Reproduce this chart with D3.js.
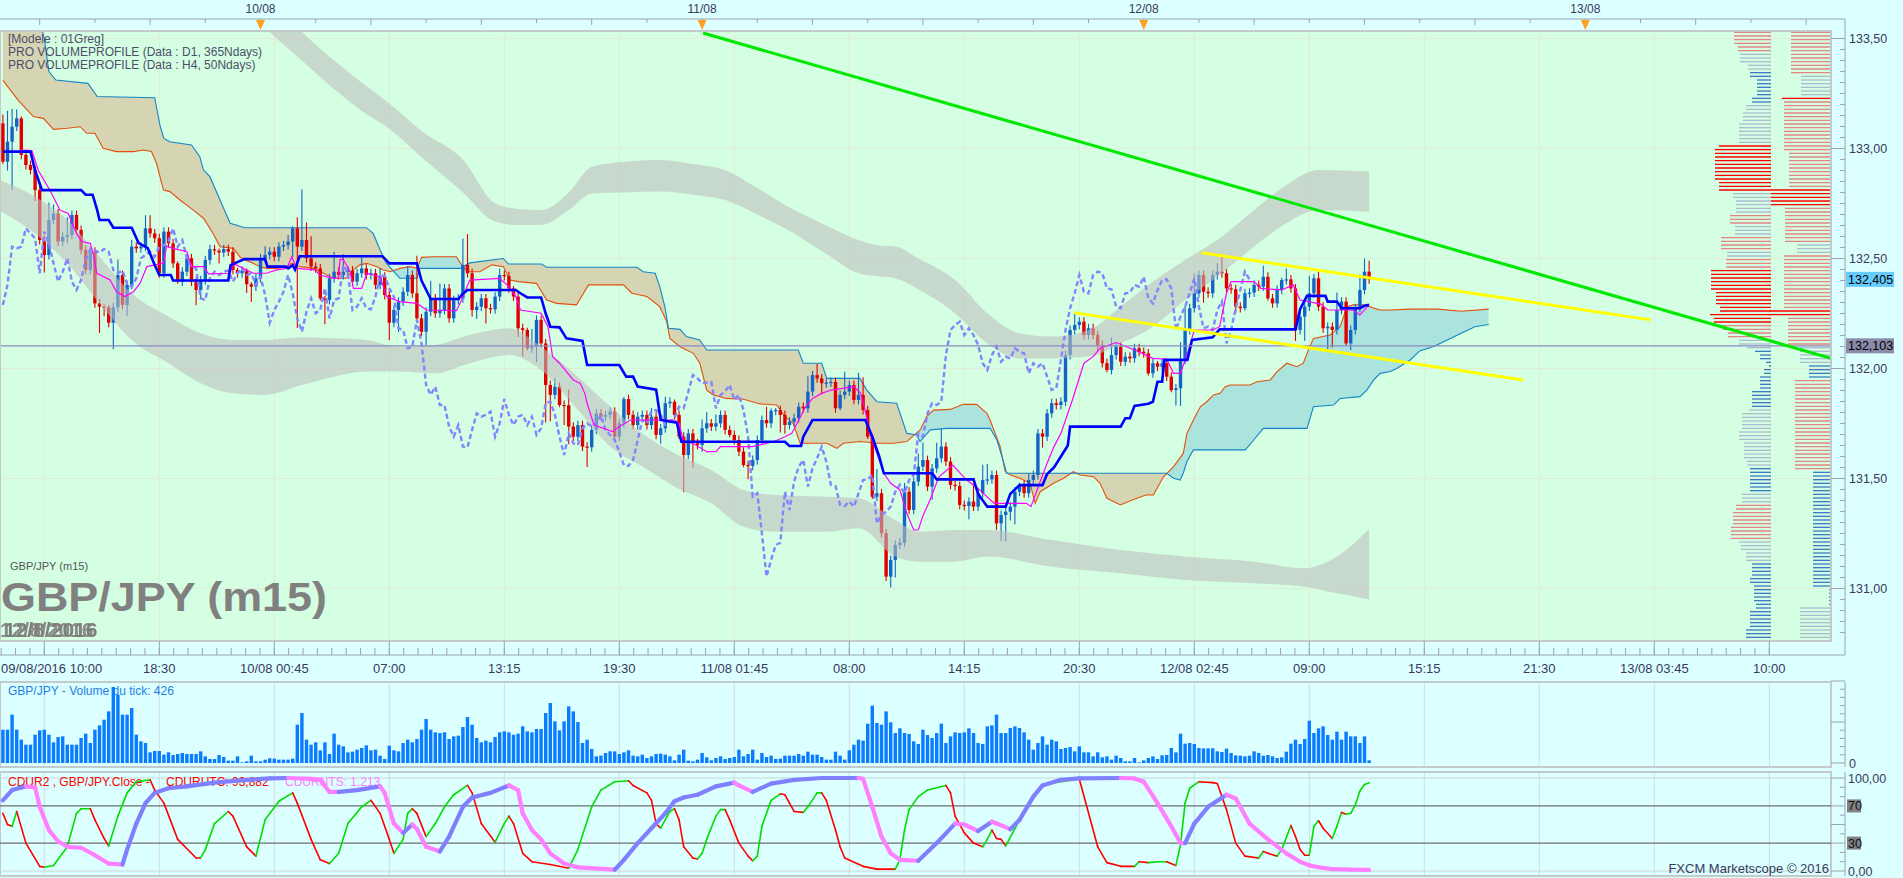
<!DOCTYPE html>
<html>
<head>
<meta charset="utf-8">
<title>GBP/JPY (m15)</title>
<script src="https://cdn.jsdelivr.net/npm/d3@7/dist/d3.min.js"></script>
<style>
html,body{margin:0;padding:0;background:#dcffff;overflow:hidden}
svg{display:block}
text{font-family:"Liberation Sans",Arial,sans-serif}
</style>
</head>
<body>
<svg id="chart" width="1903" height="878"></svg>
<script>
// ================= DATA =================
const startLabel = "09/08/2016 10:00";
const firstOpen = 133.114;
const closes = [
132.940,133.031,133.099,133.137,132.971,132.925,132.902,132.811,132.584,132.516,
132.675,132.705,132.577,132.599,132.607,132.698,132.630,132.539,132.448,132.531,
132.296,132.281,132.278,132.208,132.278,132.425,132.289,132.380,132.554,132.546,
132.554,132.637,132.614,132.592,132.433,132.622,132.569,132.478,132.395,132.440,
132.501,132.395,132.357,132.402,132.493,132.542,132.536,132.527,132.543,132.531,
132.448,132.433,132.445,132.383,132.372,132.410,132.501,132.516,132.531,132.508,
132.554,132.561,132.577,132.637,132.554,132.584,132.501,132.463,132.455,132.319,
132.311,132.410,132.440,132.425,132.440,132.445,132.395,132.433,132.455,132.425,
132.433,132.380,132.417,132.334,132.208,132.266,132.304,132.349,132.425,132.342,
132.228,132.167,132.258,132.319,132.251,132.266,132.364,132.228,132.311,132.319,
132.471,132.433,132.266,132.281,132.319,132.274,132.269,132.327,132.425,132.420,
132.364,132.327,132.183,132.175,132.092,132.099,132.221,132.114,131.925,131.880,
131.917,131.834,131.833,131.736,131.690,131.743,131.645,131.642,131.721,131.796,
131.781,131.789,131.804,131.690,131.751,131.861,131.789,131.743,131.781,131.789,
131.743,131.781,131.698,131.728,131.842,131.849,131.789,131.690,131.607,131.705,
131.660,131.652,131.728,131.751,131.736,131.751,131.789,131.721,131.698,131.675,
131.622,131.561,131.557,131.584,131.675,131.766,131.751,131.808,131.811,131.789,
131.743,131.758,131.774,131.826,131.819,131.895,131.970,131.955,131.933,131.936,
131.939,131.819,131.880,131.895,131.925,131.857,131.880,131.811,131.690,131.417,
131.433,131.251,131.054,131.130,131.198,131.208,131.440,131.357,131.486,131.554,
131.584,131.463,131.546,131.592,131.645,131.577,131.471,131.466,131.380,131.375,
131.395,131.372,131.433,131.493,131.496,131.516,131.296,131.334,131.349,131.372,
131.440,131.471,131.433,131.493,131.516,131.705,131.690,131.796,131.842,131.834,
131.849,132.061,132.175,132.198,132.213,132.152,132.183,132.152,132.107,132.024,
131.993,132.061,132.099,132.031,132.054,132.046,132.092,132.076,132.069,131.978,
132.024,132.008,132.024,131.963,131.902,131.910,132.039,132.175,132.274,132.342,
132.425,132.349,132.342,132.425,132.440,132.433,132.364,132.360,132.281,132.274,
132.342,132.345,132.380,132.372,132.417,132.319,132.296,132.357,132.402,132.405,
132.364,132.175,132.236,132.281,132.342,132.410,132.281,132.183,132.190,132.175,
132.266,132.304,132.114,132.175,132.274,132.357,132.440,132.405];
const upperWickPips = [
4,14,8,4,1,2,2,2,2,2, 8,4,2,2,8,2,2,2,2,2, 2,2,1,1,2,7,2,2,3,2, 2,6,6,2,2,2,2,2,1,2,
2,2,2,2,2,2,2,1,2,2, 2,1,2,1,1,2,2,4,2,2, 2,2,3,1,5,23,8,10,2,2, 1,2,9,2,8,2,2,2,5,2,
2,2,4,2,2,2,2,2,4,2, 17,2,2,8,2,12,2,2,2,2, 12,14,2,2,2,2,2,2,3,2, 2,1,2,2,1,8,2,2,2,2,
4,2,2,7,2,2,2,2,2,2, 2,2,2,2,2,1,2,2,2,2, 2,4,2,2,3,2,1,2,2,2, 2,2,4,5,2,4,2,2,2,2,
2,2,2,2,2,2,6,1,1,2, 2,2,2,2,2,7,2,5,2,2, 2,2,2,9,2,2,10,8,2,1, 11,2,2,2,2,2,4,2,2,6,
8,2,2,7,8,2,2,2,2,2, 2,8,2,7,7,2,2,2,2,2, 2,1,2,3,2,2,2,2,2,2, 2,2,2,5,2,2,2,2,2,2,
2,8,2,2,2,2,2,2,2,2, 2,1,2,2,2,2,8,11,2,9, 2,2,2,2,4,7,2,2,2,2, 2,2,2,2,5,2,2,2,1,5,
2,2,2,2,8,2,3,2,2,2, 8,2,2,2,2,7,6,5];
const lowerWickPips = [
1,4,22,2,2,2,2,5,2,8, 2,2,2,2,3,2,2,2,2,2, 2,12,4,2,12,2,2,5,2,2, 2,2,2,2,2,2,2,2,1,2,
2,2,7,4,2,2,2,5,2,2, 2,2,2,4,7,2,2,2,2,2, 2,2,2,7,37,2,2,2,2,1, 11,2,2,2,2,2,2,2,2,2,
2,2,2,2,8,2,10,2,2,2, 2,2,6,2,2,2,2,2,2,2, 2,2,3,4,2,7,2,2,2,2, 2,2,4,12,1,2,7,2,17,12,
2,1,9,8,2,2,2,9,2,2, 2,2,2,2,2,2,2,2,2,2, 2,2,2,4,2,2,2,1,17,2, 11,2,3,2,2,2,2,2,1,2,
2,1,6,2,2,2,2,2,2,8, 4,2,2,2,2,2,2,2,5,2, 2,2,1,2,2,2,2,2,1,1, 2,2,2,5,8,2,2,2,2,2,
2,2,6,2,2,2,2,2,2,2, 6,2,2,2,2,2,3,8,12,4, 8,2,2,2,2,2,5,2,2,2, 2,2,2,2,2,2,2,2,3,2,
1,2,2,2,2,2,2,2,2,1, 2,2,2,2,1,7,8,2,2,2, 2,5,2,2,2,2,2,2,3,2, 1,2,2,2,2,1,2,2,2,2,
2,5,2,11,2,2,2,2,10,8, 2,2,1,3,2,2,2,2];
const tickVolumes = [
1300,1300,1890,1300,910,715,715,1105,1274,1300, 1105,806,1014,1040,715,715,715,975,1144,780,
1300,1469,1690,2015,2964,2665,1885,1885,2145,1105, 845,780,416,468,468,325,416,312,351,390,
351,351,351,455,260,156,156,312,234,91, 91,260,26,65,286,65,65,130,182,169,
130,130,130,169,1495,1950,910,715,806,494, 806,351,1144,715,650,416,442,520,585,689,
494,520,286,156,676,494,455,780,910,806, 936,1300,1716,1300,1196,1170,1196,936,1040,1066,
1404,1794,1495,975,806,871,806,1014,1196,1235, 1196,1105,1144,1430,1235,1196,1326,1326,1950,2340,
1625,1274,1625,2210,2015,1599,780,910,546,260, 286,390,455,455,351,416,494,286,260,325,
195,260,351,364,325,260,104,325,520,91, 65,130,390,221,104,195,260,156,195,234,
520,260,351,520,130,390,234,286,156,169, 286,286,286,351,286,442,325,325,234,130,
130,442,286,130,494,715,910,871,1534,2236, 1560,1495,2015,1586,1170,1352,1170,1131,845,741,
1300,1092,975,1170,1534,780,1040,1196,1170,1196, 1352,1170,780,741,1430,1469,1885,1170,1170,1365,
1430,1365,1196,910,520,780,1040,715,910,845, 546,585,624,455,650,416,416,260,416,221,
260,130,286,195,65,65,195,26,104,195, 260,156,299,312,585,416,1144,754,780,741,
585,572,572,572,455,429,559,390,299,286, 260,286,455,390,286,312,260,195,221,442,
754,910,741,936,1651,1170,1352,1430,1092,910, 1222,910,1222,1040,1040,780,1040,104];
// Ichimoku lines: [candle index, price]
const tenkan = [[3.7,132.993],[6.3,132.99],[7.7,132.90],[10.2,132.811],[12.4,132.720],[14.2,132.705],[16,132.614],[17.1,132.577],[19,132.569],[19.7,132.516],[20.4,132.433],[23.3,132.402],[24.7,132.349],[26.5,132.327],[28.4,132.349],[29.8,132.387],[31.3,132.463],[33.1,132.471],[34.9,132.478],[35.6,132.557],[37,132.546],[40,132.531],[41,132.463],[43.6,132.463],[44.7,132.430],[49.4,132.433],[50.1,132.478],[53,132.448],[54.4,132.433],[57.3,132.433],[59.5,132.448],[61.7,132.455],[62.8,132.508],[63.9,132.455],[67.8,132.448],[68.9,132.425],[71.8,132.410],[72.9,132.410],[73.3,132.496],[74,132.496],[75.5,132.440],[76.2,132.364],[78,132.364],[79.1,132.433],[80.5,132.425],[82,132.417],[83.4,132.327],[86.3,132.304],[90,132.296],[92.1,132.266],[98.6,132.263],[99.7,132.311],[101.5,132.402],[108,132.41],[110,132.372],[111.5,132.327],[112.5,132.266],[117,132.251],[118.5,132.19],[119.5,132.054],[121,132.024],[124,131.948],[125.5,131.933],[126.5,131.887],[127,131.842],[128.5,131.743],[132.5,131.713],[134,131.736],[136.5,131.766],[146,131.766],[147,131.751],[148,131.667],[150,131.660],[153,131.622],[155,131.622],[156,131.645],[163,131.645],[167.5,131.667],[170,131.690],[171.5,131.705],[173,131.766],[174.5,131.826],[176,131.864],[178,131.887],[180,131.902],[185,131.917],[186.5,131.887],[187.5,131.804],[188.5,131.705],[190.5,131.584],[191.5,131.524],[193,131.478],[195,131.448],[196.5,131.342],[198,131.266],[199,131.266],[200,131.33],[201.5,131.40],[203.5,131.508],[206.5,131.561],[209.5,131.493],[212,131.455],[215.5,131.387],[222.5,131.387],[223.5,131.372],[225.5,131.486],[227,131.569],[228.5,131.645],[230,131.705],[232.5,131.857],[235,132.024],[237,132.054],[238.5,132.092],[242,132.118],[246,132.084],[250,132.046],[253,132.042],[254.5,131.978],[256,131.978],[257.5,132.069],[259,132.175],[263,132.175],[264.5,132.190],[266,132.342],[267,132.395],[272,132.395],[273.5,132.364],[278,132.357],[280.5,132.380],[282,132.311],[286.5,132.293],[288,132.266],[293.5,132.266],[295,132.243],[297,132.290]];
const kijun = [[0,132.986],[6,132.986],[7,132.90],[8.5,132.811],[17,132.811],[18,132.79],[19.5,132.79],[20.5,132.72],[21,132.675],[23,132.675],[24,132.64],[28,132.64],[29.5,132.57],[31.5,132.547],[33,132.47],[34,132.425],[36.5,132.425],[37,132.40],[49,132.40],[49.5,132.47],[52.5,132.497],[57,132.497],[57.5,132.463],[61.5,132.463],[62,132.455],[63,132.47],[63.5,132.45],[64.5,132.51],[82.5,132.51],[84,132.478],[90,132.478],[91,132.40],[93,132.316],[99,132.316],[100,132.34],[101,132.357],[111.5,132.357],[112.5,132.342],[114,132.323],[117,132.323],[118,132.25],[119,132.19],[121,132.187],[122.5,132.137],[126,132.125],[127,132.016],[134,132.016],[135.5,131.963],[137,131.963],[138,131.918],[142,131.904],[143,131.766],[146.5,131.754],[147.5,131.667],[170,131.667],[171,131.648],[173.5,131.648],[174,131.69],[175,131.728],[176,131.766],[187.5,131.766],[189,131.69],[190.5,131.60],[191.5,131.524],[202,131.524],[203,131.496],[211,131.496],[212,131.43],[214,131.372],[218,131.372],[219,131.43],[221,131.47],[226,131.47],[227,131.52],[228.5,131.55],[230,131.60],[231.5,131.65],[232,131.736],[243,131.736],[244,131.774],[245,131.774],[246,131.83],[249,131.84],[250,131.849],[251,131.94],[252,131.94],[252.5,132.039],[257.5,132.039],[258.5,132.13],[263,132.142],[264.5,132.178],[281,132.178],[282,132.27],[283.5,132.330],[287.5,132.330],[288,132.304],[290,132.304],[291,132.274],[295,132.274],[296,132.285],[297,132.29]];
const senkouA = [[0,133.31],[3.3,133.22],[6.6,133.145],[8.8,133.137],[11,133.087],[14,133.092],[16.8,133.099],[18.2,133.069],[20,133.069],[21.8,133.001],[24.7,132.986],[28.4,132.986],[30.5,132.993],[32.3,132.986],[33.4,132.933],[34.9,132.811],[36.3,132.804],[38.5,132.766],[41.4,132.720],[43.6,132.683],[45.7,132.614],[47.2,132.554],[50.1,132.546],[51.5,132.508],[52.6,132.493],[54.4,132.478],[55.9,132.463],[57.3,132.455],[59.5,132.455],[61.7,132.463],[62.8,132.478],[64.6,132.463],[67.5,132.455],[69.7,132.433],[71.8,132.410],[74.7,132.410],[76.2,132.448],[77.6,132.471],[79.1,132.478],[81.3,132.463],[82.7,132.448],[84.2,132.440],[86.3,132.455],[88.5,132.463],[90,132.455],[91,132.505],[93.6,132.508],[98.6,132.508],[99.7,132.471],[101,132.44],[103.7,132.440],[106.3,132.471],[108.8,132.463],[110.2,132.402],[112.1,132.395],[116,132.387],[118.2,132.311],[120.4,132.296],[124.7,132.289],[127.3,132.380],[134.9,132.380],[136.7,132.342],[140,132.327],[142.8,132.281],[144.3,132.213],[145,132.137],[147.2,132.099],[150.1,132.069],[151.5,132.024],[153,131.902],[154.4,131.880],[157.3,131.864],[161,131.860],[164.6,131.839],[168.2,131.834],[170,131.781],[171.8,131.751],[173.3,131.660],[179.1,131.660],[181.3,131.637],[182.7,131.660],[186.3,131.668],[190,131.660],[193.6,131.660],[196.5,131.668],[199.4,131.721],[200.8,131.781],[202.3,131.811],[205.9,131.814],[208.8,131.837],[211.7,131.837],[213.9,131.796],[214.6,131.766],[216.8,131.645],[217.9,131.531],[219,131.516],[221.1,131.501],[223.3,131.478],[224.4,131.387],[225.5,131.440],[228.4,131.478],[230.6,131.501],[232.7,131.531],[234.2,131.516],[237.1,131.508],[238.5,131.478],[240,131.410],[242.9,131.380],[246.5,131.410],[248.5,131.425],[250.1,131.425],[252.3,131.508],[254.5,131.554],[256.6,131.614],[257.4,131.705],[258.8,131.766],[260.3,131.826],[261.7,131.849],[263.2,131.880],[264.6,131.887],[265.7,131.917],[266.8,131.925],[271.1,131.925],[272.6,131.940],[275.5,131.948],[277,131.986],[279.1,132.024],[281.3,132.008],[282.7,132.024],[283.8,132.084],[284.9,132.137],[288.5,132.152],[290.7,132.190],[292.2,132.281],[293.6,132.289],[295.8,132.289],[299.4,132.266],[301.6,132.266],[306,132.27],[312,132.27],[317,132.26],[323,132.27]];
const senkouB = [[0,133.62],[8,133.58],[9,133.50],[10,133.35],[11.5,133.311],[18.5,133.296],[20.5,133.236],[33,133.231],[34.2,133.10],[35,133.046],[36.3,133.031],[41,133.016],[42.8,132.963],[43.6,132.902],[45,132.872],[47.2,132.766],[49.4,132.660],[52.6,132.640],[79,132.640],[80.5,132.614],[82,132.539],[83.4,132.478],[85,132.440],[86.3,132.41],[90,132.41],[90.7,132.455],[99.4,132.455],[101.5,132.48],[108.8,132.50],[109.9,132.475],[117.1,132.475],[118.2,132.460],[137.8,132.460],[139.2,132.440],[141.8,132.433],[142.8,132.372],[143.9,132.281],[144.7,132.183],[147.2,132.178],[148.6,132.145],[151.5,132.130],[153,132.084],[172.9,132.084],[174,132.024],[178,132.024],[179.1,131.955],[186.3,131.955],[187.8,131.902],[190,131.849],[194.3,131.842],[196.5,131.705],[198.6,131.698],[199.4,131.668],[201.6,131.721],[205.2,131.728],[214.6,131.728],[216.1,131.675],[217.5,131.577],[218.2,131.524],[253,131.524],[254.5,131.501],[255.9,131.493],[256.6,131.524],[257.4,131.577],[258.8,131.630],[270.1,131.630],[271.9,131.675],[274,131.728],[283.5,131.728],[284.9,131.826],[289.3,131.834],[290.7,131.864],[295,131.872],[296.5,131.902],[298,131.948],[299.4,131.978],[301.6,131.986],[303,132.00],[306,132.04],[308,132.08],[311,132.10],[314,132.13],[317,132.16],[320,132.19],[323,132.20]];
// wide gray envelopes: [candle index, upper edge, lower edge]
const upperBand = [[50,133.85,133.70],[58,133.67,133.53],[65,133.53,133.40],[72,133.40,133.27],[78,133.30,133.17],[84,133.205,133.09],[91,133.08,132.96],[100,132.95,132.80],[107,132.751,132.668],[112,132.725,132.652],[117,132.720,132.652],[123,132.80,132.72],[128,132.917,132.796],[135,132.94,132.80],[143,132.948,132.804],[150,132.93,132.79],[157,132.902,132.766],[164,132.82,132.70],[172,132.720,132.614],[179,132.65,132.52],[186,132.584,132.433],[190,132.56,132.42],[194,132.554,132.410],[199,132.50,132.36],[207,132.402,132.251],[214,132.251,132.114],[221,132.160,132.046],[228,132.145,132.046],[236,132.175,132.054],[243,132.281,132.114],[250,132.395,132.190],[257,132.493,132.311],[265,132.599,132.433],[272,132.720,132.554],[279,132.834,132.660],[286,132.902,132.720],[297,132.895,132.713]];
const lowerBand = [[-1,132.86,132.72],[7,132.781,132.614],[14,132.675,132.478],[21,132.508,132.296],[28,132.342,132.130],[36,132.236,132.024],[43,132.160,131.933],[50,132.130,131.887],[57,132.130,131.880],[65,132.142,131.925],[72,132.137,131.963],[79,132.130,131.986],[86,132.099,131.986],[94,132.107,131.978],[101,132.150,132.020],[110,132.183,132.061],[117,132.099,131.993],[125,131.963,131.811],[132,131.827,131.645],[139,131.705,131.554],[146,131.615,131.463],[154,131.539,131.387],[161,131.448,131.281],[168,131.425,131.258],[179,131.417,131.258],[186,131.410,131.274],[194,131.311,131.145],[199,131.258,131.122],[207,131.266,131.122],[214,131.266,131.145],[228,131.220,131.099],[243,131.175,131.069],[257,131.145,131.039],[272,131.122,131.024],[283,131.092,131.008],[290,131.145,130.978],[297,131.27,130.95]];
// Oscillators: [candle index, value]
const cdurUTC = [[0,62],[1,50],[2,48],[3,64],[5,30],[8,5],[9,4],[11,6],[14,26],[16,62],[17,67],[19,67],[20,55],[22,35],[23,27],[25,59],[27,84],[29,96],[32,98],[33,87],[35,73],[38,34],[42,14],[43,14],[44,23],[46,51],[49,64],[50,59],[53,26],[55,16],[57,55],[60,75],[63,84],[64,73],[67,34],[69,12],[71,8],[73,19],[75,51],[78,69],[80,76],[82,62],[84,34],[85,19],[87,34],[88,62],[89,67],[90,62],[92,37],[94,51],[96,69],[98,82],[101,92],[102,84],[104,51],[107,31],[109,51],[110,59],[111,51],[113,19],[115,10],[119,7],[123,3],[125,23],[128,69],[130,87],[133,96],[136,97],[137,92],[140,84],[141,76],[142,51],[143,46],[145,64],[146,67],[147,55],[148,26],[150,14],[151,13],[152,19],[153,34],[155,59],[156,66],[157,66],[158,55],[160,30],[162,16],[163,11],[164,16],[165,48],[167,76],[169,83],[170,82],[171,73],[172,64],[174,63],[175,69],[177,84],[178,84],[179,76],[181,44],[182,26],[183,14],[187,5],[190,2],[194,2],[195,12],[196,44],[197,66],[199,80],[201,87],[205,92],[206,84],[207,59],[209,41],[211,30],[213,26],[214,34],[215,44],[216,35],[217,34],[218,27],[221,55],[224,80],[226,93],[234,99],[238,26],[240,9],[243,5],[246,5],[247,10],[249,9],[251,10],[253,10],[255,6],[256,28],[257,73],[258,89],[260,96],[263,95],[264,94],[266,66],[268,30],[270,16],[273,14],[274,21],[275,19],[277,16],[278,23],[280,49],[281,37],[282,23],[283,17],[284,17],[285,48],[286,54],[287,46],[289,35],[290,48],[291,63],[292,61],[293,62],[294,71],[295,86],[296,93],[297,95]];
const cdurNTS = [[0,76],[2,87],[5,91],[7,90],[8,69],[10,44],[12,32],[14,26],[17,25],[20,17],[23,8],[26,7],[27,23],[29,51],[31,73],[33,84],[36,89],[40,91],[46,95],[53,98],[58,99.6],[62,100],[67,99],[69,98],[71,85],[73,85],[77,87],[82,91],[83,84],[85,51],[87,41],[89,50],[90,45],[92,26],[95,21],[97,37],[100,69],[102,79],[106,84],[110,92],[112,87],[113,62],[115,44],[117,34],[119,19],[122,8],[125,4],[133,1.4],[135,12],[138,30],[141,46],[144,62],[146,75],[148,79],[151,82],[155,91],[159,95],[160,92],[163,85],[167,94],[172,98],[178,100],[186,100],[187,99],[189,69],[191,37],[193,19],[195,12],[199,11],[203,30],[207,51],[209,50],[212,43],[215,53],[216,51],[219,45],[221,55],[224,80],[226,92],[230,98],[234,99.6],[243,100],[246,99.5],[248,96],[251,73],[254,48],[256,30],[257,30],[259,51],[262,69],[266,82],[268,78],[271,51],[275,34],[279,19],[282,10],[284,6],[286,4],[289,2],[293,1.4],[297,1.2]];
// Drawn trend lines: [candle index, price]
const greenTrend = [[152.2,133.525],[397.4,132.046]];
const yellowUpper = [[260.6,132.526],[358.2,132.221]];
const yellowLower = [[232.8,132.254],[330.5,131.948]];
const refPrice = 132.103;
const lastPrice = 132.405;
// Volume profiles: [first level, last level, volume, category]
const profileTop = 133.528, profileStep = 1/60;
const profileD1 = [[0,3,37,'r'],[4,5,33,'r'],[6,8,31,'g'],[9,10,23,'g'],[11,12,21,'b'],[13,17,14,'b'],[18,19,19,'b'],[20,21,25,'g'],[22,24,28,'g'],[25,30,32,'g'],[31,31,52,'R'],[32,40,56,'R'],[41,43,52,'R'],[44,45,38,'g'],[46,49,35,'g'],[50,52,41,'r'],[53,55,36,'g'],[56,59,50,'r'],[60,61,44,'g'],[62,64,45,'r'],[65,70,60,'R'],[71,74,55,'R'],[75,76,51,'R'],[77,77,61,'R'],[78,79,57,'R'],[80,81,48,'r'],[82,83,43,'r'],[84,85,32,'g'],[86,86,24,'g'],[87,87,16,'b'],[88,89,11,'b'],[90,90,5,'b'],[91,91,2,'b'],[92,93,7,'b'],[94,97,11,'b'],[98,102,19,'b'],[103,103,22,'g'],[104,108,29,'g'],[109,111,32,'g'],[112,116,27,'g'],[117,118,24,'g'],[119,125,21,'b'],[126,128,29,'g'],[129,130,35,'r'],[131,134,38,'r'],[135,138,40,'r'],[139,139,32,'g'],[140,141,30,'g'],[142,144,25,'g'],[145,148,19,'b'],[149,150,21,'b'],[151,155,17,'b'],[156,157,15,'b'],[158,162,21,'b'],[163,165,25,'b']];
const profileH4 = [[0,11,39,'r'],[12,17,29,'g'],[18,18,48,'R'],[19,32,46,'r'],[33,42,41,'r'],[43,47,59,'R'],[48,57,45,'r'],[58,60,33,'g'],[61,75,46,'r'],[76,77,60,'R'],[78,85,42,'r'],[86,90,30,'g'],[91,94,21,'b'],[95,119,35,'r'],[120,151,17,'b'],[152,156,1,'b'],[157,165,30,'g']];
// Axis labels
const priceTicks = [133.5,133.0,132.5,132.0,131.5,131.0];
const priceTickLabels = ["133,50","133,00","132,50","132,00","131,50","131,00"];
const dayIdx = [56,152,248,344];
const dayLabels = ["10/08","11/08","12/08","13/08"];
const timeLabelIdx = [34,59,84,109,134,159,184,209,234,259,284,309,334,359,384];
const timeLabels = ["18:30","10/08 00:45","07:00","13:15","19:30","11/08 01:45","08:00","14:15","20:30","12/08 02:45","09:00","15:15","21:30","13/08 03:45","10:00"];
const oscLevels = [70,30];
const oscLevelLabels = ["70","30"];
const oscEnds = [100,0];
const oscEndLabels = ["100,00","0,00"];

// ================= DRAW =================
const W=1903,H=878;
const P={l:0,r:1831,t:31,b:641};
const AX=1845;
const svg=d3.select('#chart');
const x=d3.scaleLinear().domain([-0.63,397.41]).range([P.l,P.r]);
const y=d3.scaleLinear().domain([133.5,131.0]).range([38.5,588.5]);
const yv=d3.scaleLinear().domain([0,3200]).range([763,681]);
const yo=d3.scaleLinear().domain([0,100]).range([871,778]);
const pip=0.01;
const axisTxt='#3a3a5c', tickCol='#9aa4ae', borderCol='#c2cacc';

svg.append('rect').attr('width',W).attr('height',H).attr('fill','#dcffff');
const defs=svg.append('defs');
defs.append('clipPath').attr('id','clipMain').append('rect').attr('x',P.l).attr('y',P.t).attr('width',P.r-P.l).attr('height',P.b-P.t);
defs.append('clipPath').attr('id','clipVol').append('rect').attr('x',0).attr('y',682).attr('width',P.r).attr('height',85);
defs.append('clipPath').attr('id','clipOsc').append('rect').attr('x',0).attr('y',772).attr('width',P.r).attr('height',104);
// doubled (ghost) rendering of the date stamp, as in the reference
const dbl=defs.append('filter').attr('id','dbl').attr('x','-5%').attr('y','-20%').attr('width','120%').attr('height','140%');
dbl.append('feOffset').attr('in','SourceGraphic').attr('dx',4).attr('dy',0).attr('result','off');
dbl.append('feComponentTransfer').attr('in','off').attr('result','dark')
  .call(s=>{['feFuncR','feFuncG','feFuncB'].forEach(f=>s.append(f).attr('type','linear').attr('slope',0.82));});
dbl.append('feMerge').call(m=>{m.append('feMergeNode').attr('in','SourceGraphic');m.append('feMergeNode').attr('in','dark');});

// ---- main plot ----
svg.append('rect').attr('x',P.l).attr('y',P.t).attr('width',P.r-P.l).attr('height',P.b-P.t).attr('fill','#d4ffe2');
const main=svg.append('g').attr('clip-path','url(#clipMain)');
const gridIdx=d3.range(9,398,25);
main.append('g').selectAll('line').data(gridIdx).join('line')
  .attr('x1',d=>x(d)).attr('x2',d=>x(d)).attr('y1',P.t).attr('y2',P.b)
  .attr('stroke','#e2ebd5').attr('stroke-width',1);
main.append('g').selectAll('line').data(priceTicks).join('line')
  .attr('x1',P.l).attr('x2',P.r).attr('y1',d=>y(d)).attr('y2',d=>y(d))
  .attr('stroke','#e2ebd5').attr('stroke-width',1);

// cloud
const ptLine=d3.line().x(d=>x(d[0])).y(d=>y(d[1]));
const between=ptLine(senkouA)+senkouB.slice().reverse().map(d=>'L'+x(d[0])+','+y(d[1])).join('')+'Z';
defs.append('clipPath').attr('id','aboveA').append('path').attr('d',d3.area().x(d=>x(d[0])).y0(0).y1(d=>y(d[1]))(senkouA));
defs.append('clipPath').attr('id','belowA').append('path').attr('d',d3.area().x(d=>x(d[0])).y0(H).y1(d=>y(d[1]))(senkouA));
main.append('g').attr('clip-path','url(#aboveA)').append('path').attr('d',between).attr('fill','#d5d5b3');
main.append('g').attr('clip-path','url(#belowA)').append('path').attr('d',between).attr('fill','#aae4dc');
main.append('path').attr('d',ptLine(senkouA)).attr('fill','none').attr('stroke','#e4500c').attr('stroke-width',1.1);
main.append('path').attr('d',ptLine(senkouB)).attr('fill','none').attr('stroke','#1684c6').attr('stroke-width',1.1);

// candles
const candles=closes.map((c,i)=>{
  const o=i===0?firstOpen:closes[i-1];
  return {i,o,c,h:Math.max(o,c)+upperWickPips[i]*pip,l:Math.min(o,c)-lowerWickPips[i]*pip,up:c>=o};
});
const upCol='#1464c8', dnCol='#e00000';
const cg=main.append('g');
cg.selectAll('line').data(candles).join('line')
  .attr('x1',d=>x(d.i)).attr('x2',d=>x(d.i)).attr('y1',d=>y(d.h)).attr('y2',d=>y(d.l))
  .attr('stroke',d=>d.up?upCol:dnCol).attr('stroke-width',1.1);
cg.selectAll('rect').data(candles).join('rect')
  .attr('x',d=>x(d.i)-1.7).attr('width',3.4)
  .attr('y',d=>y(Math.max(d.o,d.c))).attr('height',d=>Math.max(1.2,Math.abs(y(d.o)-y(d.c))))
  .attr('fill',d=>d.up?upCol:dnCol);

// gray envelopes
const bandArea=d3.area().curve(d3.curveMonotoneX).x(d=>x(d[0])).y0(d=>y(d[2])).y1(d=>y(d[1]));
main.append('path').attr('d',bandArea(upperBand)).attr('fill','rgb(190,190,190)').attr('fill-opacity',0.58);
main.append('path').attr('d',bandArea(lowerBand)).attr('fill','rgb(190,190,190)').attr('fill-opacity',0.58);

// chikou (close shifted back 26 periods)
const chikou=closes.map((c,i)=>[i-26,c]).filter(d=>d[0]>=0);
main.append('path').attr('d',ptLine(chikou)).attr('fill','none').attr('stroke','#8484ff').attr('stroke-width',2.4).attr('stroke-dasharray','5,3');
main.append('path').attr('d',ptLine(tenkan)).attr('fill','none').attr('stroke','#ff00ff').attr('stroke-width',1.2);
main.append('path').attr('d',ptLine(kijun)).attr('fill','none').attr('stroke','#0000ff').attr('stroke-width',2.6);

// reference horizontal line
main.append('line').attr('x1',P.l).attr('x2',P.r).attr('y1',y(refPrice)).attr('y2',y(refPrice)).attr('stroke','#8a8ac2').attr('stroke-width',1.2);

// volume profiles
function expand(runs){const out=[];runs.forEach(([a,b,v,c])=>{for(let k=a;k<=b;k++)out.push({k,v,c});});return out;}
const profCol={R:'#ff0000',r:'#e38585',g:'#abbcd2',b:'#3a7cc6'};
const pw=d3.scaleLinear().domain([0,60]).range([0,60]);
const pY=k=>y(profileTop-k*profileStep);
main.append('g').selectAll('line').data(expand(profileD1)).join('line')
  .attr('x1',d=>1771-pw(d.v)).attr('x2',1771).attr('y1',d=>pY(d.k)).attr('y2',d=>pY(d.k))
  .attr('stroke',d=>profCol[d.c]).attr('stroke-width',1.3);
main.append('g').selectAll('line').data(expand(profileH4)).join('line')
  .attr('x1',d=>P.r-1-pw(d.v)).attr('x2',P.r-1).attr('y1',d=>pY(d.k)).attr('y2',d=>pY(d.k))
  .attr('stroke',d=>profCol[d.c]).attr('stroke-width',1.3);

// trend lines
main.append('path').attr('d',ptLine(yellowUpper)).attr('stroke','#ffff00').attr('stroke-width',3).attr('fill','none');
main.append('path').attr('d',ptLine(yellowLower)).attr('stroke','#ffff00').attr('stroke-width',3).attr('fill','none');
main.append('path').attr('d',ptLine(greenTrend)).attr('stroke','#00e800').attr('stroke-width',3).attr('fill','none');

// texts in main plot
const infoLines=["[Modele : 01Greg]","PRO VOLUMEPROFILE (Data : D1, 365Ndays)","PRO VOLUMEPROFILE (Data : H4, 50Ndays)"];
main.append('g').selectAll('text').data(infoLines).join('text')
  .attr('x',8).attr('y',(d,i)=>43+i*13).attr('font-size',12).attr('fill','#4e4e6a').text(d=>d);
// small instrument caption, kept just above the big watermark so the two do not collide
main.append('text').attr('x',10).attr('y',570).attr('font-size',11).attr('fill','#555').text('GBP/JPY (m15)');
main.append('text').attr('x',1).attr('y',611).attr('font-size',40).attr('font-weight','bold').attr('fill','#808080')
  .attr('textLength',326).attr('lengthAdjust','spacingAndGlyphs').text('GBP/JPY (m15)');
main.append('text').attr('x',0).attr('y',637).attr('font-size',21).attr('font-weight','bold').attr('fill','#8a8a8a')
  .attr('filter','url(#dbl)').text('12/8/2016');

svg.append('rect').attr('x',P.l).attr('y',P.t).attr('width',P.r-P.l).attr('height',P.b-P.t).attr('fill','none').attr('stroke',borderCol).attr('stroke-width',2);

// ---- right price axis ----
const ra=svg.append('g');
ra.append('line').attr('x1',AX).attr('x2',AX).attr('y1',19).attr('y2',655).attr('stroke',tickCol);
const minorP=d3.range(0,56).map(k=>130.75+k*0.05).filter(p=>y(p)>=P.t&&y(p)<=P.b);
ra.selectAll('.mt').data(minorP).join('line')
  .attr('x1',d=>Math.abs(Math.round(d*2)-d*2)<1e-6?P.r:AX-5).attr('x2',AX)
  .attr('y1',d=>y(d)).attr('y2',d=>y(d)).attr('stroke',tickCol);
ra.selectAll('text').data(priceTicks).join('text')
  .attr('x',AX+4).attr('y',d=>y(d)+4.5).attr('font-size',12.5).attr('fill',axisTxt).text((d,i)=>priceTickLabels[i]);
const boxes=[{p:lastPrice,bg:'#66ccff'},{p:refPrice,bg:'#8a8aaa'}];
boxes.forEach(b=>{
  ra.append('rect').attr('x',AX+1).attr('y',y(b.p)-7.5).attr('width',48).attr('height',15).attr('fill',b.bg);
  ra.append('text').attr('x',AX+3).attr('y',y(b.p)+4.5).attr('font-size',12.5).attr('fill','#000').text(d3.format('.3f')(b.p).replace('.',','));
});

// ---- top time axis ----
const ta=svg.append('g');
ta.append('line').attr('x1',0).attr('x2',AX).attr('y1',19).attr('y2',19).attr('stroke',tickCol);
const topTicks=d3.range(8,398,12);
ta.selectAll('.tt').data(topTicks).join('line')
  .attr('x1',d=>x(d)).attr('x2',d=>x(d)).attr('y1',19).attr('y2',d=>((d-8)%24===0)?25:23).attr('stroke',tickCol);
ta.selectAll('text').data(dayIdx).join('text')
  .attr('x',d=>x(d)).attr('y',13).attr('text-anchor','middle').attr('font-size',12).attr('fill',axisTxt).text((d,i)=>dayLabels[i]);
ta.selectAll('path').data(dayIdx).join('path')
  .attr('d',d=>`M${x(d)-4.5},20L${x(d)+4.5},20L${x(d)},30Z`).attr('fill','#ffa020');

// ---- bottom time axis ----
const ba=svg.append('g');
ba.append('line').attr('x1',0).attr('x2',AX).attr('y1',655).attr('y2',655).attr('stroke',tickCol);
const minorX=d3.range(0,16*8+1).map(k=>9-25+k*25/8).filter(v=>x(v)>=0&&x(v)<=P.r);
ba.selectAll('.mx').data(minorX).join('line')
  .attr('x1',d=>x(d)).attr('x2',d=>x(d)).attr('y1',648).attr('y2',655).attr('stroke',tickCol);
ba.selectAll('.Mx').data(gridIdx).join('line')
  .attr('x1',d=>x(d)).attr('x2',d=>x(d)).attr('y1',641).attr('y2',655).attr('stroke',tickCol);
ba.append('text').attr('x',1).attr('y',673).attr('font-size',13).attr('fill',axisTxt).text(startLabel);
ba.selectAll('text.tl').data(timeLabelIdx).join('text').attr('class','tl')
  .attr('x',d=>x(d)).attr('y',673).attr('text-anchor','middle').attr('font-size',13).attr('fill',axisTxt).text((d,i)=>timeLabels[i]);

// ---- volume panel ----
const vp=svg.append('g');
vp.append('rect').attr('x',0).attr('y',682).attr('width',P.r).attr('height',85).attr('fill','#dcffff').attr('stroke',borderCol).attr('stroke-width',2);
vp.selectAll('.vg').data(gridIdx).join('line').attr('x1',d=>x(d)).attr('x2',d=>x(d)).attr('y1',683).attr('y2',766).attr('stroke','#d4dcdc');
vp.append('text').attr('x',8).attr('y',695).attr('font-size',12).attr('fill','#1e7ee6').text('GBP/JPY - Volume du tick: 426');
vp.append('g').attr('clip-path','url(#clipVol)').selectAll('rect').data(tickVolumes).join('rect')
  .attr('x',(d,i)=>x(i)-1.7).attr('width',3.4).attr('y',d=>yv(d)).attr('height',d=>yv(0)-yv(d)).attr('fill','#0a7cff');
vp.append('line').attr('x1',AX).attr('x2',AX).attr('y1',682).attr('y2',767).attr('stroke',tickCol);
vp.selectAll('.vt').data(d3.range(0,3201,320)).join('line')
  .attr('x1',d=>d%1600===0?P.r:AX-5).attr('x2',AX).attr('y1',d=>yv(d)).attr('y2',d=>yv(d)).attr('stroke',tickCol);
vp.append('text').attr('x',AX+4).attr('y',yv(0)+4.5).attr('font-size',12.5).attr('fill',axisTxt).text('0');

// ---- oscillator panel ----
const op=svg.append('g');
op.append('rect').attr('x',0).attr('y',772).attr('width',P.r).attr('height',104).attr('fill','#dcffff').attr('stroke',borderCol).attr('stroke-width',2);
op.selectAll('.og').data(gridIdx).join('line').attr('x1',d=>x(d)).attr('x2',d=>x(d)).attr('y1',773).attr('y2',875).attr('stroke','#d4dcdc');
op.selectAll('.oe').data(oscEnds).join('line').attr('x1',0).attr('x2',P.r).attr('y1',d=>yo(d)).attr('y2',d=>yo(d)).attr('stroke','#cdd5d5');
op.selectAll('.ol').data(oscLevels).join('line').attr('x1',0).attr('x2',P.r).attr('y1',d=>yo(d)).attr('y2',d=>yo(d)).attr('stroke','#6e6e6e').attr('stroke-width',1.2);
const oscTxt=[{t:'CDUR2 , GBP/JPY.Close -',x:8,c:'#ff0000'},{t:'CDURUTC: 93,882',x:166,c:'#ff0000'},{t:'CDURNTS: 1,213',x:285,c:'#ff80ff'}];
op.selectAll('text.ot').data(oscTxt).join('text').attr('class','ot').attr('x',d=>d.x).attr('y',786).attr('font-size',12).attr('fill',d=>d.c).text(d=>d.t);
function segs(pts){const s=[];let prev=true;for(let j=1;j<pts.length;j++){const dv=pts[j][1]-pts[j-1][1];const up=dv>0?true:(dv<0?false:prev);prev=up;s.push({a:pts[j-1],b:pts[j],up});}return s;}
const og=op.append('g').attr('clip-path','url(#clipOsc)');
og.append('g').selectAll('line').data(segs(cdurUTC)).join('line')
  .attr('x1',d=>x(d.a[0])).attr('y1',d=>yo(d.a[1])).attr('x2',d=>x(d.b[0])).attr('y2',d=>yo(d.b[1]))
  .attr('stroke',d=>d.up?'#00dd00':'#ff0000').attr('stroke-width',1.6).attr('stroke-linecap','round');
og.append('g').selectAll('line').data(segs(cdurNTS)).join('line')
  .attr('x1',d=>x(d.a[0])).attr('y1',d=>yo(d.a[1])).attr('x2',d=>x(d.b[0])).attr('y2',d=>yo(d.b[1]))
  .attr('stroke',d=>d.up?'#8080ff':'#ff80ff').attr('stroke-width',4.2).attr('stroke-linecap','round');
op.append('line').attr('x1',AX).attr('x2',AX).attr('y1',772).attr('y2',876).attr('stroke',tickCol);
op.selectAll('.otk').data(d3.range(0,101,10)).join('line')
  .attr('x1',d=>d%50===0||d===70||d===30?P.r:AX-5).attr('x2',AX).attr('y1',d=>yo(d)).attr('y2',d=>yo(d)).attr('stroke',tickCol);
op.selectAll('text.oe').data(oscEnds).join('text').attr('class','oe').attr('x',AX+3).attr('y',d=>yo(d)+4.5).attr('font-size',12.5).attr('fill',axisTxt).text((d,i)=>oscEndLabels[i]);
oscLevels.forEach((v,i)=>{
  op.append('rect').attr('x',AX+2).attr('y',yo(v)-6.5).attr('width',14).attr('height',13).attr('fill','#808080');
  op.append('text').attr('x',AX+3).attr('y',yo(v)+4.5).attr('font-size',12.5).attr('fill','#111').text(oscLevelLabels[i]);
});
op.append('text').attr('x',1829).attr('y',873).attr('text-anchor','end').attr('font-size',13).attr('fill','#3a3a5c').text('FXCM Marketscope © 2016');
</script>
</body>
</html>
